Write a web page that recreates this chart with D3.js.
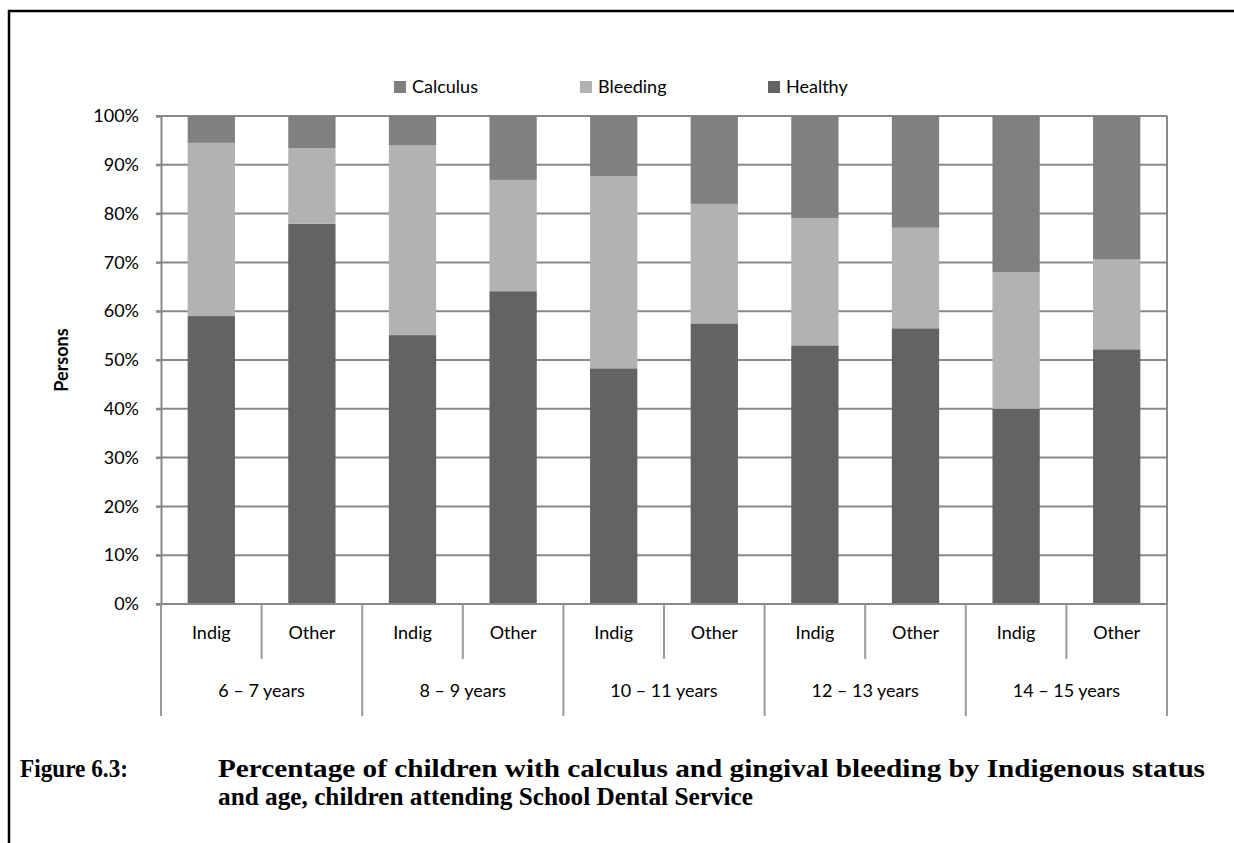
<!DOCTYPE html>
<html>
<head>
<meta charset="utf-8">
<script src="https://cdn.jsdelivr.net/npm/d3@7"></script>
<style>
  body { margin: 0; background: #fff; }
  text { font-family: "Lato", "Open Sans", sans-serif; fill: #000; }
</style>
</head>
<body>
<div id="chart-area"></div>
<script>
// data (percent of children)
var ageGroups = ["6 – 7 years", "8 – 9 years", "10 – 11 years", "12 – 13 years", "14 – 15 years"];
var statuses = ["Indig", "Other"];
var healthy  = [59.0, 77.9, 55.1, 64.1, 48.3, 57.5, 53.0, 56.5, 40.0, 52.2];
var bleeding = [35.5, 15.5, 38.9, 22.8, 39.4, 24.5, 26.1, 20.6, 28.0, 18.4];
var calculus = [5.5, 6.6, 6.0, 13.1, 12.3, 18.0, 20.9, 22.9, 32.0, 29.4];
var seriesNames = ["Healthy", "Bleeding", "Calculus"];
var legendOrder = ["Calculus", "Bleeding", "Healthy"];
var yTicks = [0, 10, 20, 30, 40, 50, 60, 70, 80, 90, 100];
var caption1 = "Percentage of children with calculus and gingival bleeding by Indigenous status";
var caption2 = "and age, children attending School Dental Service";

var colors = { Calculus: "#808080", Bleeding: "#b2b2b2", Healthy: "#636363" };

var rows = [];
ageGroups.forEach(function (g, gi) {
    statuses.forEach(function (s, si) {
        var i = gi * 2 + si;
        rows.push({ key: g + "|" + s, group: g, status: s,
            Healthy: healthy[i], Bleeding: bleeding[i], Calculus: calculus[i] });
    });
});

var svg = d3.select("#chart-area").append("svg")
    .attr("width", 1234)
    .attr("height", 843);

// outer frame (top + left)
svg.append("path")
    .attr("d", "M9,843 V11 H1234")
    .attr("fill", "none")
    .attr("stroke", "#000")
    .attr("stroke-width", 2.5);

var plotL = 161, plotR = 1167, plotT = 116, plotB = 604;

var x = d3.scaleBand()
    .domain(rows.map((d) => d.key))
    .range([plotL, plotR])
    .paddingInner(0.53)
    .paddingOuter(0.265);

var y = d3.scaleLinear().domain([0, 100]).range([plotB, plotT]);

// gridlines
svg.append("g")
    .selectAll("line")
    .data(yTicks)
    .enter().append("line")
    .attr("x1", plotL - 5)
    .attr("x2", plotR)
    .attr("y1", (d) => y(d))
    .attr("y2", (d) => y(d))
    .attr("stroke", "#888")
    .attr("stroke-width", 2);

// right border of plot
svg.append("line")
    .attr("x1", plotR).attr("x2", plotR)
    .attr("y1", plotT).attr("y2", plotB)
    .attr("stroke", "#888").attr("stroke-width", 2);

// stacked bars
var stack = d3.stack().keys(seriesNames);
var layers = stack(rows);

svg.append("g")
    .selectAll("g")
    .data(layers)
    .enter().append("g")
    .attr("fill", (d) => colors[d.key])
    .selectAll("rect")
    .data((d) => d)
    .enter().append("rect")
    .attr("x", (d) => x(d.data.key))
    .attr("width", x.bandwidth())
    .attr("y", (d) => y(d[1]))
    .attr("height", (d) => y(d[0]) - y(d[1]));

// y axis
var yAxis = svg.append("g")
    .attr("transform", "translate(" + plotL + ",0)")
    .call(d3.axisLeft(y).tickValues(yTicks).tickSize(5).tickPadding(17).tickFormat((d) => d + "%"));
yAxis.selectAll("line").attr("stroke", "#888").attr("stroke-width", 2);
yAxis.select(".domain").attr("stroke", "#888").attr("stroke-width", 2);
yAxis.selectAll("text")
    .style("font-family", "Lato, 'Open Sans', sans-serif")
    .style("font-size", "18px")
    .attr("fill", "#000");

svg.append("text")
    .attr("transform", "translate(68,360) rotate(-90)")
    .attr("text-anchor", "middle")
    .style("font-size", "18px")
    .style("font-weight", "bold")
    .text("Persons");

// x axis line
svg.append("line")
    .attr("x1", plotL).attr("x2", plotR)
    .attr("y1", plotB).attr("y2", plotB)
    .attr("stroke", "#888").attr("stroke-width", 2);

var step = x.step();

// separators between categories
svg.append("g")
    .selectAll("line")
    .data(d3.range(rows.length + 1))
    .enter().append("line")
    .attr("x1", (i) => plotL + i * step)
    .attr("x2", (i) => plotL + i * step)
    .attr("y1", plotB)
    .attr("y2", (i) => i % 2 === 0 ? 716 : 659)
    .attr("stroke", "#999")
    .attr("stroke-width", 2);

// status labels
svg.append("g")
    .selectAll("text")
    .data(rows)
    .enter().append("text")
    .attr("x", (d) => x(d.key) + x.bandwidth() / 2)
    .attr("y", 639)
    .attr("text-anchor", "middle")
    .style("font-size", "18px")
    .text((d) => d.status);

// age group labels
svg.append("g")
    .selectAll("text")
    .data(ageGroups)
    .enter().append("text")
    .attr("x", (d, i) => plotL + (i * 2 + 1) * step)
    .attr("y", 697)
    .attr("text-anchor", "middle")
    .style("font-size", "18px")
    .text((d) => d);

// legend
var legendX = [394, 580, 768];
var legend = svg.append("g")
    .selectAll("g")
    .data(legendOrder)
    .enter().append("g")
    .attr("transform", (d, i) => "translate(" + legendX[i] + ",81)");
legend.append("rect")
    .attr("width", 12).attr("height", 12)
    .attr("fill", (d) => colors[d]);
legend.append("text")
    .attr("x", 18).attr("y", 12)
    .style("font-size", "18px")
    .text((d) => d);

// caption
var capFont = "'Liberation Serif', 'DejaVu Serif', serif";
svg.append("text")
    .attr("x", 20).attr("y", 777)
    .style("font-family", capFont)
    .style("font-size", "25px")
    .style("font-weight", "bold")
    .attr("textLength", 108)
    .attr("lengthAdjust", "spacingAndGlyphs")
    .text("Figure 6.3:");
svg.append("text")
    .attr("x", 218).attr("y", 777)
    .style("font-family", capFont)
    .style("font-size", "25px")
    .style("font-weight", "bold")
    .attr("textLength", 987)
    .attr("lengthAdjust", "spacingAndGlyphs")
    .text(caption1);
svg.append("text")
    .attr("x", 218).attr("y", 805)
    .style("font-family", capFont)
    .style("font-size", "25px")
    .style("font-weight", "bold")
    .attr("textLength", 535)
    .attr("lengthAdjust", "spacingAndGlyphs")
    .text(caption2);
</script>
</body>
</html>
